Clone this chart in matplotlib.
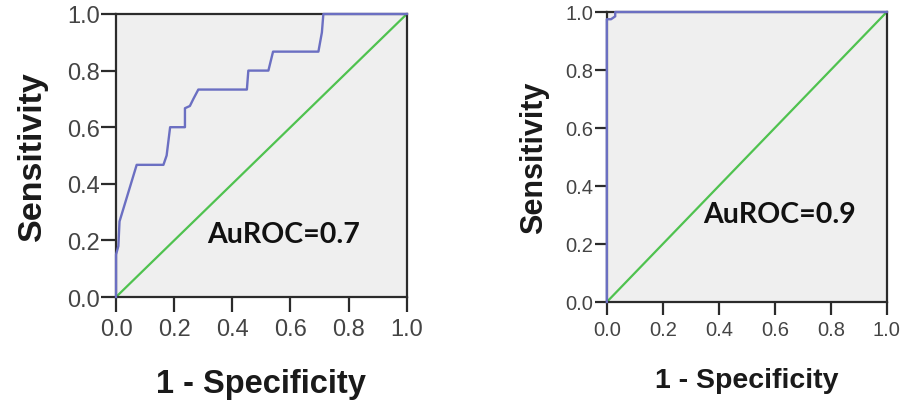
import matplotlib.pyplot as plt

# ROC curve (left): 1 - specificity vs sensitivity
fpr_a = [0.0, 0.0, 0.008, 0.012, 0.071, 0.163, 0.174, 0.186, 0.237, 0.237,
         0.254, 0.266, 0.283, 0.45, 0.455, 0.524, 0.54, 0.696, 0.708, 0.713, 1.0]
tpr_a = [0.0, 0.15, 0.18, 0.267, 0.467, 0.467, 0.5, 0.6, 0.6, 0.667,
         0.675, 0.70, 0.733, 0.733, 0.8, 0.8, 0.867, 0.867, 0.935, 1.0, 1.0]
auc_a = "AuROC=0.7"

# ROC curve (right)
fpr_b = [0.0, 0.0, 0.015, 0.03, 0.03, 1.0]
tpr_b = [0.0, 0.975, 0.975, 0.985, 1.0, 1.0]
auc_b = "AuROC=0.9"

ticks = [0.0, 0.2, 0.4, 0.6, 0.8, 1.0]

bg = '#efefef'
curve_col = '#6b6fc2'
ref_col = '#4fc24f'
spine_col = '#2b2b2b'

fig = plt.figure(figsize=(9.03, 4.02), dpi=100)


def roc_panel(rect, fpr, tpr, label, text_xy, tick_fs, lab_fs, ylab_fs, txt_fs,
              tick_len, xpad, ypad):
    ax = fig.add_axes(rect)
    ax.set_facecolor(bg)
    ax.plot([0, 1], [0, 1], color=ref_col, lw=1.6, zorder=2)
    ax.plot(fpr, tpr, color=curve_col, lw=1.7, zorder=3, clip_on=False)
    ax.set_xlim(0, 1)
    ax.set_ylim(0, 1)
    ax.set_xticks(ticks)
    ax.set_yticks(ticks)
    ax.set_xticklabels([f'{t:.1f}' for t in ticks], fontsize=tick_fs, color='#444444')
    ax.set_yticklabels([f'{t:.1f}' for t in ticks], fontsize=tick_fs, color='#444444')
    ax.tick_params(axis='both', length=tick_len, width=1.6, color=spine_col)
    ax.tick_params(axis='x', pad=4)
    ax.tick_params(axis='y', pad=0.5)
    for s in ax.spines.values():
        s.set_color(spine_col)
        s.set_linewidth(1.6)
    ax.set_xlabel('1 - Specificity', fontsize=lab_fs, fontweight='bold',
                  family='Liberation Sans', labelpad=xpad, color='#1a1a1a')
    ax.set_ylabel('Sensitivity', fontsize=ylab_fs, fontweight='bold',
                  family='Liberation Sans', labelpad=ypad, color='#1a1a1a')
    ax.text(text_xy[0], text_xy[1], label, fontsize=txt_fs, fontweight='bold',
            family='Lato', ha='left', va='center', color='#111111')
    return ax


plt.rcParams['font.family'] = ['Liberation Sans', 'DejaVu Sans']

roc_panel([0.1285, 0.2587, 0.322, 0.704], fpr_a, tpr_a, auc_a, (0.315, 0.222),
          17, 23.5, 24.5, 20.5, 11, 20, 14)
roc_panel([0.672, 0.2463, 0.310, 0.7214], fpr_b, tpr_b, auc_b, (0.345, 0.305),
          14.5, 20.5, 22, 20.5, 9, 20, 12)

fig.savefig('out.png', dpi=100)
